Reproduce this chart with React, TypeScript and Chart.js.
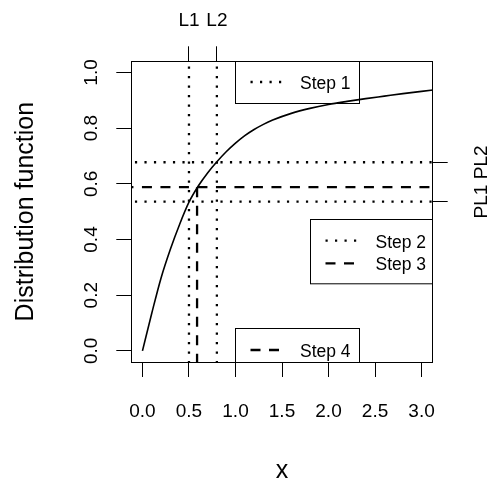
import React, { useEffect, useRef } from "react";
import { Chart, registerables } from "chart.js";

Chart.register(...registerables);

// ---- data ----
const CURVE_X = [0, 0.1, 0.2, 0.3, 0.4, 0.5, 0.6, 0.7, 0.8, 0.9, 1.0, 1.1, 1.2, 1.3, 1.4, 1.6, 1.8, 2.0, 2.2, 2.4, 2.6, 2.8, 3.0, 3.15];
const CURVE_F = [0, 0.135, 0.262, 0.365, 0.455, 0.534, 0.592, 0.639, 0.679, 0.715, 0.746, 0.773, 0.795, 0.8135, 0.829, 0.853, 0.871, 0.885, 0.896, 0.906, 0.915, 0.924, 0.932, 0.938];

const X_TICKS = [0, 0.5, 1, 1.5, 2, 2.5, 3];
const X_TICK_LABELS = ["0.0", "0.5", "1.0", "1.5", "2.0", "2.5", "3.0"];
const Y_TICKS = [0, 0.2, 0.4, 0.6, 0.8, 1.0];
const Y_TICK_LABELS = ["0.0", "0.2", "0.4", "0.6", "0.8", "1.0"];

const TOP_TICKS = [0.5, 0.8];
const TOP_LABELS = ["L1", "L2"];
const RIGHT_TICKS = [0.536, 0.6775];
const RIGHT_LABELS = ["PL1", "PL2"];

const STEP3_Q = 0.587;
const STEP3_P = 0.588;

const X_TITLE = "x";
const Y_TITLE = "Distribution function";

const LEGEND_TOP = ["Step 1"];
const LEGEND_RIGHT = ["Step 2", "Step 3"];
const LEGEND_BOTTOM = ["Step 4"];

const X_RANGE = [-0.12, 3.12];
const Y_RANGE = [-0.04, 1.04];

// ---- styles ----
const FONT = "'Liberation Sans', Arial, Helvetica, sans-serif";
const DOTTED = [2.2, 7.3];
const DASHED = [10, 8.5];
const LW = 2.3;

function drawSample(ctx: CanvasRenderingContext2D, x0: number, x1: number, y: number, dash: number[]) {
  ctx.save();
  ctx.strokeStyle = "#000";
  ctx.lineWidth = LW;
  ctx.lineCap = "butt";
  ctx.setLineDash(dash);
  ctx.beginPath();
  ctx.moveTo(x0, y);
  ctx.lineTo(x1, y);
  ctx.stroke();
  ctx.restore();
}

const annotPlugin = {
  id: "annot",
  beforeDraw(chart: any) {
    const ctx = chart.ctx;
    ctx.save();
    ctx.fillStyle = "#fff";
    ctx.fillRect(0, 0, chart.width, chart.height);
    ctx.restore();
  },
  afterDraw(chart: any) {
    const { ctx, chartArea: a, scales } = chart;
    const x = scales.x;
    const y = scales.y;
    ctx.save();
    // plot box
    ctx.strokeStyle = "#000";
    ctx.lineWidth = 1;
    ctx.setLineDash([]);
    const L = Math.floor(a.left) + 0.5;
    const R = Math.floor(a.right) + 0.5;
    const T = Math.floor(a.top) + 0.5;
    const B = Math.floor(a.bottom) + 0.5;
    ctx.strokeRect(L, T, R - L, B - T);

    ctx.fillStyle = "#000";
    // x tick labels
    ctx.font = `19px ${FONT}`;
    ctx.textAlign = "center";
    ctx.textBaseline = "alphabetic";
    X_TICKS.forEach((v, i) => ctx.fillText(X_TICK_LABELS[i], x.getPixelForValue(v), a.bottom + 55));
    // top labels
    TOP_TICKS.forEach((v, i) => ctx.fillText(TOP_LABELS[i], x.getPixelForValue(v), a.top - 35.3));
    // y tick labels (rotated)
    Y_TICKS.forEach((v, i) => {
      ctx.save();
      ctx.translate(a.left - 34.8, y.getPixelForValue(v));
      ctx.rotate(-Math.PI / 2);
      ctx.fillText(Y_TICK_LABELS[i], 0, 0);
      ctx.restore();
    });
    // right labels (rotated)
    RIGHT_TICKS.forEach((v, i) => {
      ctx.save();
      ctx.translate(a.right + 54.3, y.getPixelForValue(v));
      ctx.rotate(-Math.PI / 2);
      ctx.fillText(RIGHT_LABELS[i], 0, 0);
      ctx.restore();
    });
    // axis titles
    ctx.font = `25px ${FONT}`;
    ctx.fillText(X_TITLE, (a.left + a.right) / 2, a.bottom + 116);
    ctx.save();
    ctx.translate(33, (a.top + a.bottom) / 2);
    ctx.rotate(-Math.PI / 2);
    ctx.fillText(Y_TITLE, 0, 0);
    ctx.restore();

    // legends
    ctx.font = `17.5px ${FONT}`;
    ctx.textAlign = "left";
    ctx.lineWidth = 1;
    // Step 1 (top)
    {
      const lx = Math.floor(x.getPixelForValue(1.0)) + 0.5;
      const w = 124;
      const h = 42;
      ctx.strokeRect(lx, T, w, h);
      const ry = a.top + 20.7;
      drawSample(ctx, lx + 15, lx + 47, ry, DOTTED);
      ctx.fillText(LEGEND_TOP[0], lx + 64.5, ry + 7.3);
    }
    // Step 2 / 3 (right)
    {
      const lx = Math.floor(a.right - 122.7) + 0.5;
      const ty = Math.floor(a.top + 157.7) + 0.5;
      const h = 64.3;
      ctx.strokeRect(lx, ty, R - lx, h);
      const r1 = a.top + 179.4;
      const r2 = a.top + 202;
      drawSample(ctx, lx + 15, lx + 46, r1, DOTTED);
      drawSample(ctx, lx + 15, lx + 44, r2, DASHED);
      ctx.fillText(LEGEND_RIGHT[0], lx + 65, r1 + 7);
      ctx.fillText(LEGEND_RIGHT[1], lx + 65, r2 + 7);
    }
    // Step 4 (bottom)
    {
      const lx = Math.floor(x.getPixelForValue(1.0)) + 0.5;
      const w = 124;
      const ty = Math.floor(a.bottom - 33.3) + 0.5;
      ctx.strokeRect(lx, ty, w, B - ty);
      const ry = a.bottom - 12;
      drawSample(ctx, lx + 15, lx + 45, ry, DASHED);
      ctx.fillText(LEGEND_BOTTOM[0], lx + 64.5, ry + 7);
    }
    ctx.restore();
  },
};

const lineDs = (pts: { x: number; y: number }[], dash: number[]) => ({
  data: pts,
  borderColor: "#000",
  borderWidth: LW,
  borderDash: dash,
  borderCapStyle: "butt",
  pointRadius: 0,
  tension: 0,
  clip: 0,
});

export default function App() {
  const ref = useRef<HTMLCanvasElement | null>(null);
  useEffect(() => {
    if (!ref.current) return;
    const gridOpts = {
      drawOnChartArea: false,
      drawTicks: true,
      tickLength: 15,
      color: "#000",
      tickColor: "#000",
      lineWidth: 1,
      tickWidth: 1,
    };
    const datasets: any[] = [
      {
        data: CURVE_X.map((v, i) => ({ x: v, y: CURVE_F[i] })),
        borderColor: "#000",
        borderWidth: 1.6,
        pointRadius: 0,
        cubicInterpolationMode: "monotone",
        clip: 0,
      },
      ...TOP_TICKS.map((v) => lineDs([{ x: v, y: -1 }, { x: v, y: 2 }], DOTTED)),
      ...RIGHT_TICKS.map((p) => lineDs([{ x: -1, y: p }, { x: 4, y: p }], DOTTED)),
      lineDs([{ x: -1, y: STEP3_P }, { x: 4, y: STEP3_P }], DASHED),
      lineDs([{ x: STEP3_Q, y: STEP3_P }, { x: STEP3_Q, y: -1 }], DASHED),
    ];
    const chart = new Chart(ref.current, {
      type: "line",
      data: { datasets },
      options: {
        animation: false,
        responsive: false,
        maintainAspectRatio: false,
        layout: { padding: 0 },
        plugins: { legend: { display: false }, tooltip: { enabled: false } },
        scales: {
          x: {
            type: "linear",
            position: "bottom",
            min: X_RANGE[0],
            max: X_RANGE[1],
            afterBuildTicks: (s: any) => { s.ticks = X_TICKS.map((v) => ({ value: v })); },
            afterFit: (s: any) => { s.height = 121; },
            grid: gridOpts,
            border: { display: false },
            ticks: { display: false },
          },
          x2: {
            type: "linear",
            position: "top",
            min: X_RANGE[0],
            max: X_RANGE[1],
            afterBuildTicks: (s: any) => { s.ticks = TOP_TICKS.map((v) => ({ value: v })); },
            afterFit: (s: any) => { s.height = 61.3; },
            grid: gridOpts,
            border: { display: false },
            ticks: { display: false },
          },
          y: {
            type: "linear",
            position: "left",
            min: Y_RANGE[0],
            max: Y_RANGE[1],
            afterBuildTicks: (s: any) => { s.ticks = Y_TICKS.map((v) => ({ value: v })); },
            afterFit: (s: any) => { s.width = 131.3; },
            grid: gridOpts,
            border: { display: false },
            ticks: { display: false },
          },
          y2: {
            type: "linear",
            position: "right",
            min: Y_RANGE[0],
            max: Y_RANGE[1],
            afterBuildTicks: (s: any) => { s.ticks = RIGHT_TICKS.map((v) => ({ value: v })); },
            afterFit: (s: any) => { s.width = 59.3; },
            grid: gridOpts,
            border: { display: false },
            ticks: { display: false },
          },
        },
      } as any,
      plugins: [annotPlugin as any],
    });
    return () => chart.destroy();
  }, []);
  return (
    <div style={{ position: "absolute", left: 0, top: 0, width: 492, height: 483, background: "#fff" }}>
      <canvas ref={ref} width={492} height={483} style={{ display: "block" }} />
    </div>
  );
}
